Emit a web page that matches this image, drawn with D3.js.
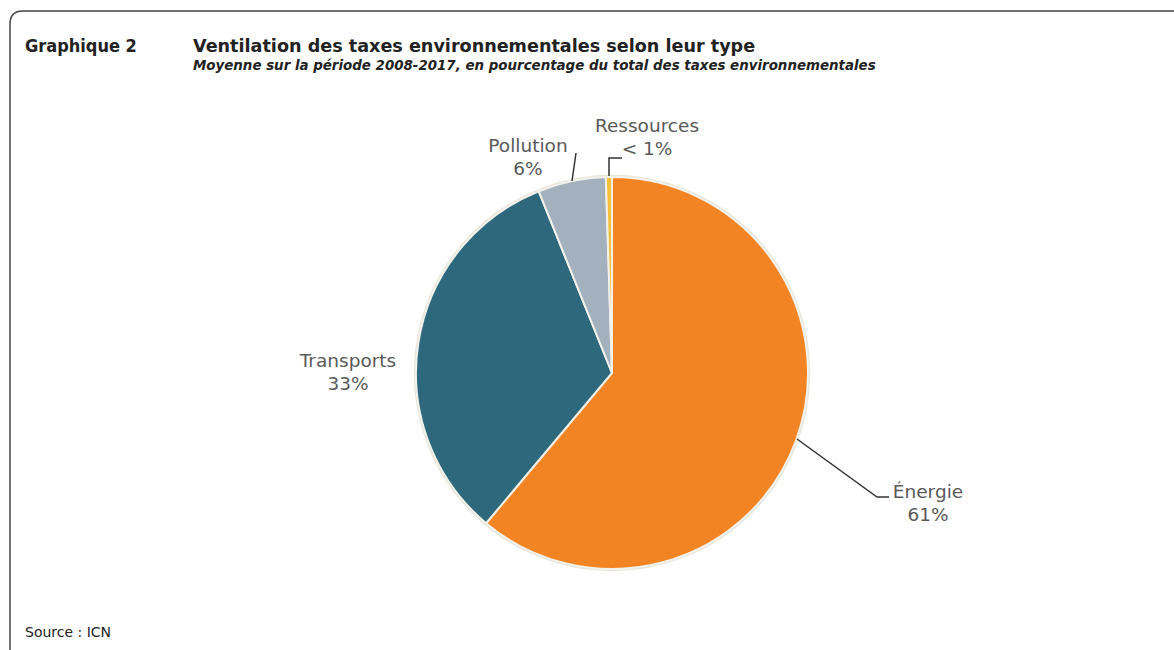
<!DOCTYPE html>
<html>
<head>
<meta charset="utf-8">
<script src="https://cdn.jsdelivr.net/npm/d3@7"></script>
<style>
  body { margin: 0; background: #fff; }
  text { font-family: "DejaVu Sans", sans-serif; }
</style>
</head>
<body>
<script>
const w = 1174;
const h = 650;

// data
const categories = ["Énergie", "Transports", "Pollution", "Ressources"];
const values = [61.1, 32.8, 5.6, 0.5];
const valueLabels = ["61%", "33%", "6%", "< 1%"];
const colors = ["#F38424", "#2D687C", "#A3B0BE", "#F8C03A"];

const svg = d3.select("body")
              .append("svg")
              .attr("width", w)
              .attr("height", h);

// frame, rounded corner, runs off the page right and bottom
svg.append("path")
   .attr("d", "M10,660 L10,24 Q10,11 23,11 L1190,11")
   .attr("fill", "none")
   .attr("stroke", "#444")
   .attr("stroke-width", 1.5);

svg.append("text")
   .attr("x", 25).attr("y", 52)
   .style("font-family", "'DejaVu Sans Condensed', sans-serif")
   .style("font-size", "18px").style("font-weight", "bold").style("fill", "#222")
   .text("Graphique 2");
svg.append("text")
   .attr("x", 193).attr("y", 52)
   .style("font-size", "17.6px").style("font-weight", "bold").style("fill", "#222")
   .text("Ventilation des taxes environnementales selon leur type");
svg.append("text")
   .attr("x", 193).attr("y", 70)
   .style("font-size", "13.4px").style("font-weight", "bold").style("font-style", "italic").style("fill", "#222")
   .text("Moyenne sur la période 2008-2017, en pourcentage du total des taxes environnementales");
svg.append("text")
   .attr("x", 25).attr("y", 637)
   .style("font-size", "14px").style("fill", "#222")
   .text("Source : ICN");

const cx = 612, cy = 373, r = 196;
const pie = d3.pie().sort(null).value(d => d)(values);
const arc = d3.arc().innerRadius(0).outerRadius(r);

const g = svg.append("g").attr("transform", `translate(${cx},${cy})`);

g.append("circle").attr("r", r + 1)
 .attr("fill", "none").attr("stroke", "#E8E6DC").attr("stroke-width", 2.5);

g.selectAll("path.slice")
 .data(pie)
 .enter()
 .append("path")
 .attr("class", "slice")
 .attr("d", arc)
 .attr("fill", (d, i) => colors[i])
 .attr("stroke", "#F2F1EA")
 .attr("stroke-width", 2);

// label placement, leader lines
const lab = [
  { x: 928, y: 498, line: [[797, 439], [877, 497], [889, 497]] },
  { x: 348, y: 367, line: null },
  { x: 528, y: 152, line: [[572, 181], [576, 153]] },
  { x: 647, y: 132, line: [[609, 176], [609, 158], [622, 158]] }
];

svg.selectAll("path.leader")
   .data(lab.filter(d => d.line))
   .enter()
   .append("path")
   .attr("class", "leader")
   .attr("d", d => d3.line()(d.line))
   .attr("fill", "none")
   .attr("stroke", "#333")
   .attr("stroke-width", 1.5);

const labels = svg.selectAll("g.lab")
   .data(categories)
   .enter()
   .append("g")
   .attr("class", "lab");
labels.append("text")
   .attr("x", (d, i) => lab[i].x)
   .attr("y", (d, i) => lab[i].y)
   .attr("text-anchor", "middle")
   .style("font-size", "18.5px").style("fill", "#595959")
   .text(d => d);
labels.append("text")
   .attr("x", (d, i) => lab[i].x)
   .attr("y", (d, i) => lab[i].y + 23)
   .attr("text-anchor", "middle")
   .style("font-size", "18.5px").style("fill", "#595959")
   .text((d, i) => valueLabels[i]);
</script>
</body>
</html>
